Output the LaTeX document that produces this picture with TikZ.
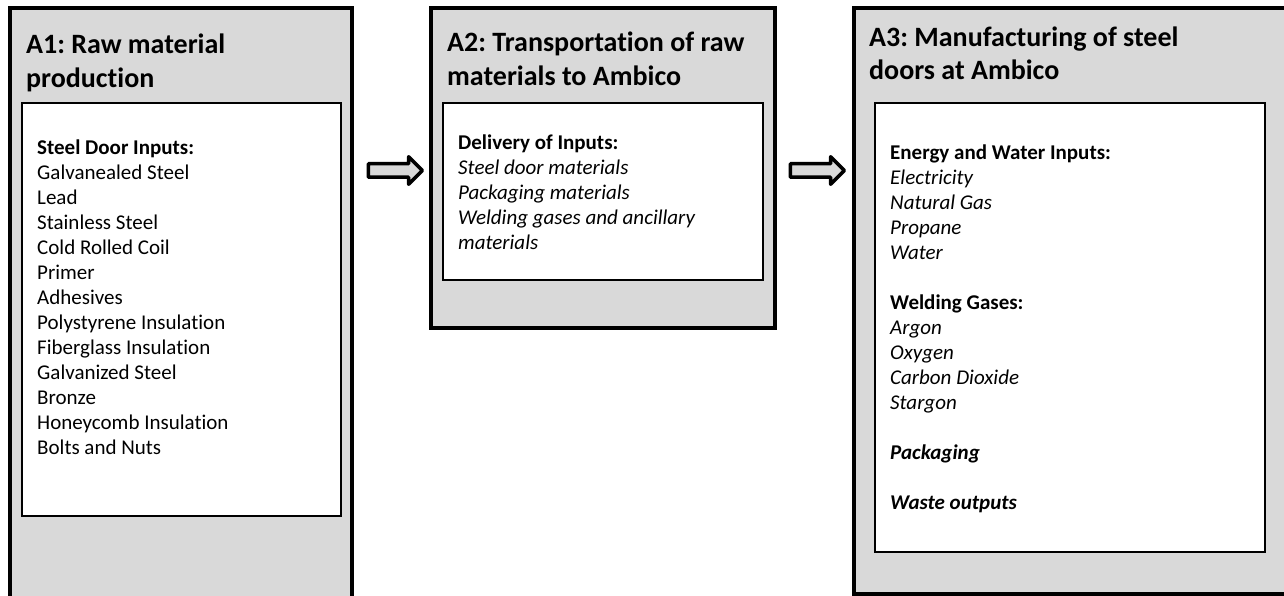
\documentclass[tikz,border=0pt]{standalone}
\usepackage{fontspec}
\setmainfont{Carlito}[Ligatures=NoCommon]
\usepackage{tikz}
\usetikzlibrary{shapes.arrows}
\definecolor{boxgray}{HTML}{D9D9D9}
\frenchspacing

\begin{document}
\begin{tikzpicture}[x=1pt,y=-1pt,
  stagebox/.style={draw=black,fill=boxgray,line width=4pt,anchor=north west,inner sep=0pt,outer sep=0pt},
  listbox/.style={draw=black,fill=white,line width=2pt,anchor=north west,inner sep=0pt,outer sep=0pt},
  titletext/.style={anchor=north west,inner sep=0pt,align=left,font=\fontsize{28}{34}\selectfont\bfseries},
  bodytext/.style={anchor=north west,inner sep=0pt,align=left,font=\fontsize{21}{25}\selectfont},
  flowarrow/.style={shape=single arrow,draw=black,fill=boxgray,line width=3.5pt,line join=round,
    inner xsep=0pt,inner ysep=5pt,single arrow head extend=7pt,minimum height=54pt}]
\useasboundingbox (0,0) rectangle (1284,596);
\clip (0,0) rectangle (1284,596);
%% stage boxes
\node[stagebox,minimum width=342pt,minimum height=700pt] (a1) at (10,8) {};
\node[stagebox,minimum width=343.5pt,minimum height=319.5pt] (a2) at (431,8) {};
\node[stagebox,minimum width=600pt,minimum height=586pt] (a3) at (853.5,8) {};
%% white lists
\node[listbox,minimum width=318.5pt,minimum height=412.5pt] (a1list) at (22,103.5) {};
\node[listbox,minimum width=319.5pt,minimum height=176.5pt] (a2list) at (443,103.5) {};
\node[listbox,minimum width=390pt,minimum height=448.5pt] (a3list) at (874.5,103.5) {};
%% titles
\node[titletext] (a1title) at (26,29.2) {\strut A1: Raw material\\production};
\node[titletext] (a2title) at (447,27.2) {\strut A2: Transportation of raw\\materials to Ambico};
\node[titletext,font=\fontsize{28}{33}\selectfont\bfseries] (a3title) at (869,23.2) {\strut A3: Manufacturing of steel\\doors at Ambico};
%% contents
\node[bodytext] (a1text) at (37,136.5) {\strut\textbf{Steel Door Inputs:}\\
  Galvanealed Steel\\Lead\\Stainless Steel\\Cold Rolled Coil\\Primer\\Adhesives\\
  Polystyrene Insulation\\Fiberglass Insulation\\Galvanized Steel\\Bronze\\
  Honeycomb Insulation\\Bolts and Nuts};
\node[bodytext] (a2text) at (458,131.5) {\strut\textbf{Delivery of Inputs:}\\
  \textit{Steel door materials}\\\textit{Packaging materials}\\
  \textit{Welding gases and ancillary}\\\textit{materials}};
\node[bodytext] (a3text) at (890,141.5) {\strut\textbf{Energy and Water Inputs:}\\
  \textit{Electricity}\\\textit{Natural Gas}\\\textit{Propane}\\\textit{Water}\\[25pt]
  \textbf{Welding Gases:}\\\textit{Argon}\\\textit{Oxygen}\\\textit{Carbon Dioxide}\\\textit{Stargon}\\[25pt]
  \textbf{\textit{Packaging}}\\[25pt]
  \textbf{\textit{Waste outputs}}};
%% flow arrows
\node[flowarrow] (arr12) at (392,170.5) {};
\node[flowarrow] (arr23) at (814,170.5) {};
\end{tikzpicture}
\end{document}
